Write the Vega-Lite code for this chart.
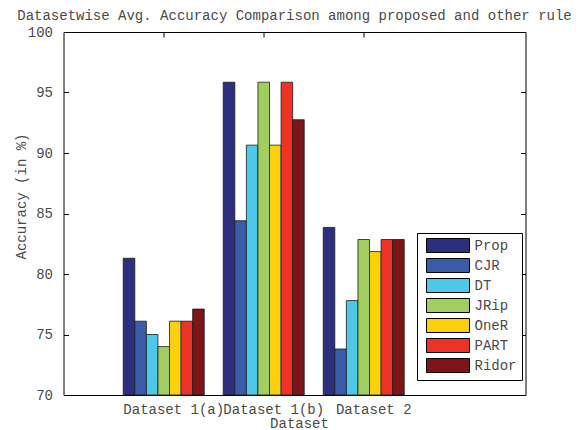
{
  "$schema": "https://vega.github.io/schema/vega-lite/v6.json",
  "width": 462,
  "height": 363,
  "autosize": "none",
  "padding": {"left": 63.5, "top": 32, "right": 52.5, "bottom": 35},
  "background": "white",
  "title": {
    "text": "Datasetwise Avg. Accuracy Comparison among proposed and other rule",
    "font": "Liberation Mono",
    "fontSize": 14,
    "fontWeight": "normal",
    "color": "#4a4a4a",
    "anchor": "middle",
    "offset": 2
  },
  "data": {
    "values": [
      {"dataset": "Dataset 1(a)", "classifier": "Prop", "accuracy": 81.3},
      {"dataset": "Dataset 1(a)", "classifier": "CJR", "accuracy": 76.1},
      {"dataset": "Dataset 1(a)", "classifier": "DT", "accuracy": 75.0},
      {"dataset": "Dataset 1(a)", "classifier": "JRip", "accuracy": 74.0},
      {"dataset": "Dataset 1(a)", "classifier": "OneR", "accuracy": 76.1},
      {"dataset": "Dataset 1(a)", "classifier": "PART", "accuracy": 76.1},
      {"dataset": "Dataset 1(a)", "classifier": "Ridor", "accuracy": 77.1},
      {"dataset": "Dataset 1(b)", "classifier": "Prop", "accuracy": 95.85},
      {"dataset": "Dataset 1(b)", "classifier": "CJR", "accuracy": 84.4},
      {"dataset": "Dataset 1(b)", "classifier": "DT", "accuracy": 90.65},
      {"dataset": "Dataset 1(b)", "classifier": "JRip", "accuracy": 95.85},
      {"dataset": "Dataset 1(b)", "classifier": "OneR", "accuracy": 90.65},
      {"dataset": "Dataset 1(b)", "classifier": "PART", "accuracy": 95.85},
      {"dataset": "Dataset 1(b)", "classifier": "Ridor", "accuracy": 92.75},
      {"dataset": "Dataset 2", "classifier": "Prop", "accuracy": 83.85},
      {"dataset": "Dataset 2", "classifier": "CJR", "accuracy": 73.8},
      {"dataset": "Dataset 2", "classifier": "DT", "accuracy": 77.8},
      {"dataset": "Dataset 2", "classifier": "JRip", "accuracy": 82.85},
      {"dataset": "Dataset 2", "classifier": "OneR", "accuracy": 81.85},
      {"dataset": "Dataset 2", "classifier": "PART", "accuracy": 82.85},
      {"dataset": "Dataset 2", "classifier": "Ridor", "accuracy": 82.85}
    ]
  },
  "config": {
    "view": {"stroke": "black", "strokeWidth": 1},
    "font": "Liberation Mono",
    "axis": {"grid": false, "domain": false, "tickColor": "black", "tickSize": -5, "labelFont": "Liberation Mono", "labelFontSize": 14, "labelColor": "#4a4a4a", "titleFont": "Liberation Mono", "titleFontSize": 14, "titleFontWeight": "normal", "titleColor": "#4a4a4a"}
  },
  "layer": [
    {
      "mark": {"type": "bar", "stroke": "#1a1a1a", "strokeWidth": 0.8},
      "encoding": {
        "x": {
          "field": "dataset", "type": "nominal",
          "sort": ["Dataset 1(a)", "Dataset 1(b)", "Dataset 2"],
          "scale": {"paddingInner": 0.19, "paddingOuter": 0.905, "align": 0.33},
          "title": "Dataset",
          "axis": {"labelAngle": 0, "labelPadding": 12, "labelOffset": 10, "titleY": 28, "titleBaseline": "middle", "titleX": 235.5}
        },
        "xOffset": {
          "field": "classifier", "type": "nominal",
          "sort": ["Prop", "CJR", "DT", "JRip", "OneR", "PART", "Ridor"],
          "scale": {"paddingInner": 0, "paddingOuter": 0}
        },
        "y": {
          "field": "accuracy", "type": "quantitative",
          "scale": {"domain": [70, 100], "nice": false, "zero": false},
          "title": "Accuracy (in %)",
          "axis": {"values": [70, 75, 80, 85, 90, 95, 100], "labelPadding": 16, "titleX": -42, "titleY": 164, "titleBaseline": "middle"}
        },
        "y2": {"datum": 70},
        "color": {
          "field": "classifier", "type": "nominal",
          "sort": ["Prop", "CJR", "DT", "JRip", "OneR", "PART", "Ridor"],
          "scale": {
            "domain": ["Prop", "CJR", "DT", "JRip", "OneR", "PART", "Ridor"],
            "range": ["#2B2F7E", "#3B5CA8", "#4DC8E9", "#A2CD60", "#FDD10A", "#EE3226", "#7E1518"]
          },
          "legend": {
            "orient": "none", "legendX": 353.5, "legendY": 201, "title": null,
            "strokeColor": "black", "fillColor": "white", "padding": 5,
            "symbolType": "M-3.07,-1L3.07,-1L3.07,1L-3.07,1Z", "symbolSize": 196,
            "symbolStrokeColor": "black", "symbolStrokeWidth": 1, "symbolOpacity": 1,
            "symbolOffset": 18.5, "labelOffset": 19,
            "labelFont": "Liberation Mono", "labelFontSize": 14, "labelColor": "#4a4a4a",
            "rowPadding": 1
          }
        }
      }
    },
    {
      "mark": {"type": "bar", "opacity": 0},
      "encoding": {
        "x": {
          "field": "dataset", "type": "nominal",
          "sort": ["Dataset 1(a)", "Dataset 1(b)", "Dataset 2"],
          "axis": {"orient": "top", "labels": false, "title": null}
        },
        "y": {
          "field": "accuracy", "type": "quantitative",
          "axis": {"orient": "right", "labels": false, "title": null, "values": [70, 75, 80, 85, 90, 95, 100]}
        },
        "y2": {"datum": 70}
      }
    }
  ],
  "resolve": {"axis": {"x": "independent", "y": "independent"}}
}
